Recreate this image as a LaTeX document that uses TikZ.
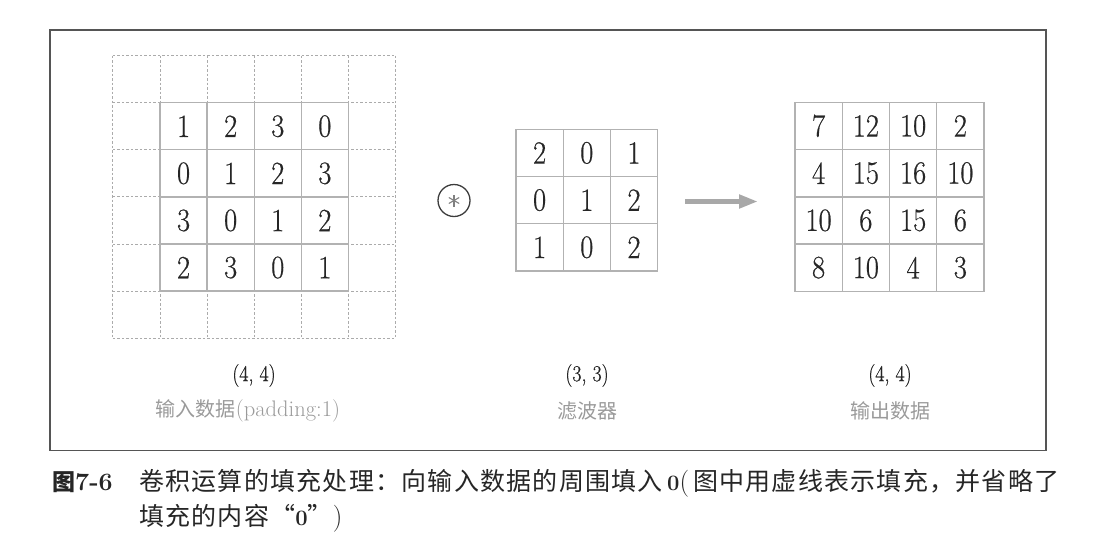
\documentclass[tikz,border=0pt]{standalone}
\usepackage{fontspec}
\newfontfamily\cjk{Noto Sans CJK SC}
\newfontfamily\cjkcap{Noto Sans CJK SC}[LetterSpace=5]
\newfontfamily\lm{Latin Modern Roman}
\newfontfamily\lmnum{Latin Modern Roman}[FakeBold=0.6]
\usetikzlibrary{arrows.meta,calc}
\definecolor{gridc}{HTML}{B2B2B2}
\definecolor{padc}{HTML}{ABABAB}
\definecolor{framec}{HTML}{555555}
\definecolor{numc}{HTML}{262626}
\definecolor{labc}{HTML}{9A9A9A}
\definecolor{arrc}{HTML}{A8A8A8}
\definecolor{circc}{HTML}{3C3C3C}
\newcommand{\tallnum}[1]{\scalebox{0.95}[1.08]{#1}}
\tikzset{
  cell/.style={draw=gridc, line width=1.3pt, minimum size=47.1pt, inner sep=0pt, text=numc, font=\lmnum\fontsize{30}{30}\selectfont},
  padline/.style={draw=padc, line width=1pt, dash pattern=on 2.5pt off 2pt},
  shapelab/.style={text=numc, font=\lmnum\fontsize{21}{21}\selectfont, inner sep=0pt},
  namelab/.style={text=labc, font=\fontsize{20}{20}\selectfont, inner sep=0pt},
  caplab/.style={text=numc, inner sep=0pt, anchor=base west},
}
\begin{document}
\begin{tikzpicture}[x=1pt,y=-1pt]
\useasboundingbox (0,0) rectangle (1095,541);
\draw[framec, line width=1.3pt] (50,30) rectangle (1046,450.5);

% padding grid (dashed)
\foreach \i in {0,...,6} {
  \draw[padline] (112.9+\i*47.1,55.6) -- (112.9+\i*47.1,338.2);
  \draw[padline] (112.9,55.6+\i*47.1) -- (395.5,55.6+\i*47.1);
}
% input data
\foreach \r/\vals in {0/{1,2,3,0},1/{0,1,2,3},2/{3,0,1,2},3/{2,3,0,1}} {
  \foreach \v [count=\c from 0] in \vals {
    \node[cell] (in-\r-\c) at (183.55+\c*47.1,126.25+\r*47.1) {\tallnum{\v}};
  }
}
% filter
\foreach \r/\vals in {0/{2,0,1},1/{0,1,2},2/{1,0,2}} {
  \foreach \v [count=\c from 0] in \vals {
    \node[cell] (f-\r-\c) at (539.6+\c*47.2,152.9+\r*47.2) {\tallnum{\v}};
  }
}
% output
\foreach \r/\vals in {0/{7,12,10,2},1/{4,15,16,10},2/{10,6,15,6},3/{8,10,4,3}} {
  \foreach \v [count=\c from 0] in \vals {
    \node[cell] (out-\r-\c) at (818.6+\c*47.25,125.9+\r*47.25) {\tallnum{\v}};
  }
}

% convolution operator
\node[circle, draw=circc, line width=1.3pt, minimum size=32pt, inner sep=0pt] (conv) at (454,200.5) {};
\foreach \a in {90,30,150} {
  \draw[gray, line width=1.1pt] ($(conv)+(\a:6)$) -- ($(conv)+(\a+180:6)$);
}

% arrow
\coordinate (arrS) at (685,201.5);
\coordinate (arrE) at (758,201.5);
\draw[arrc, line width=5pt, -{Triangle[length=19pt,width=13pt]}] (arrS) -- (arrE);

% labels
\node[shapelab] (in-shape) at (254,375.5) {\tallnum{(4, 4)}};
\node[namelab] (in-name) at (248,411) {{\cjk 输入数据}{\lm\fontsize{22.5}{22.5}\selectfont (padding:1)}};
\node[shapelab] (f-shape) at (587,375.5) {\tallnum{(3, 3)}};
\node[namelab] (f-name) at (587,411) {{\cjk 滤波器}};
\node[shapelab] (out-shape) at (890,375.5) {\tallnum{(4, 4)}};
\node[namelab] (out-name) at (890,411) {{\cjk 输出数据}};

% caption
\node[caplab] (cap-num) at (52,490) {{\fontsize{23}{23}\selectfont\cjk\bfseries 图}{\fontsize{25}{25}\selectfont\lm\bfseries 7-6}};
\node[caplab] (cap-l1) at (139,490) {\fontsize{25}{25}\selectfont\cjkcap 卷积运算的填充处理：向输入数据的周围填入\,{\fontsize{22}{22}\selectfont\lm\bfseries 0}{\lm\fontsize{27}{27}\selectfont (}\,图中用虚线表示填充，并省略了};
\node[caplab] (cap-l2) at (139,525) {\fontsize{25}{25}\selectfont\cjkcap 填充的内容“{\fontsize{22}{22}\selectfont\lm\bfseries 0}”{\lm\fontsize{27}{27}\selectfont)}};
\end{tikzpicture}
\end{document}
